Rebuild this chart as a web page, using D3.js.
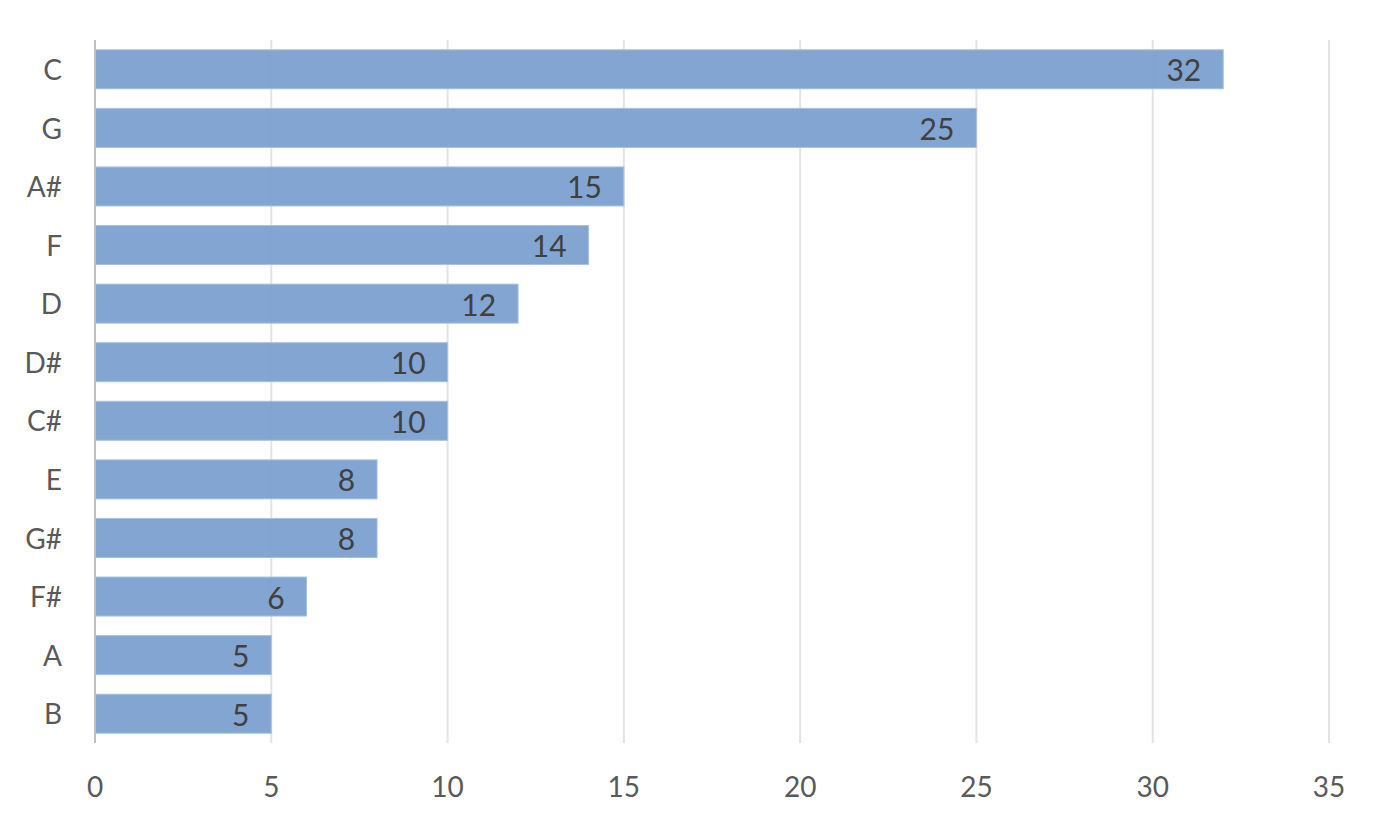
<!DOCTYPE html>
<html>
<head>
<meta charset="utf-8">
<script src="https://cdn.jsdelivr.net/npm/d3@7"></script>
<style>
  body { margin: 0; background: #fff; }
  text { font-family: Lato, 'Open Sans', sans-serif; }
</style>
</head>
<body>
<script>
// notes, ordered top to bottom
var notes = ['C', 'G', 'A#', 'F', 'D', 'D#', 'C#', 'E', 'G#', 'F#', 'A', 'B']
var counts = [32, 25, 15, 14, 12, 10, 10, 8, 8, 6, 5, 5]
var xTicks = [0, 5, 10, 15, 20, 25, 30, 35]

var width = 1389, height = 833
var margin = {top: 40, right: 60, bottom: 90, left: 95}

var svg = d3.select('body')
  .append('svg')
  .attr('width', width)
  .attr('height', height)

var x = d3.scaleLinear()
  .domain([0, 35])
  .range([margin.left, width - margin.right])

var y = d3.scaleBand()
  .domain(notes)
  .range([margin.top, height - margin.bottom])
  .paddingInner(0.334)
  .paddingOuter(0.167)

// gridlines
svg.append('g')
  .selectAll('line')
  .data(xTicks.slice(1))
  .enter().append('line')
    .attr('x1', function (d) { return x(d) })
    .attr('x2', function (d) { return x(d) })
    .attr('y1', margin.top)
    .attr('y2', height - margin.bottom)
    .attr('stroke', '#e3e3e3')
    .attr('stroke-width', 2)

// bars
svg.append('g')
  .selectAll('rect')
  .data(notes)
  .enter().append('rect')
    .attr('x', x(0))
    .attr('y', function (d) { return y(d) })
    .attr('width', function (d, i) { return x(counts[i]) - x(0) })
    .attr('height', y.bandwidth())
    .attr('fill', '#7ba1cf')
    .attr('fill-opacity', 0.95)
    .attr('stroke', '#a9c1e0')
    .attr('stroke-width', 1)

// value labels
svg.append('g')
  .selectAll('text')
  .data(notes)
  .enter().append('text')
    .attr('x', function (d, i) { return x(counts[i]) - 22 })
    .attr('y', function (d) { return y(d) + y.bandwidth() / 2 })
    .attr('dy', '0.4em')
    .attr('text-anchor', 'end')
    .attr('fill', '#404040')
    .style('font-size', '30px')
    .text(function (d, i) { return counts[i] })

// y axis line
svg.append('line')
  .attr('x1', x(0))
  .attr('x2', x(0))
  .attr('y1', margin.top)
  .attr('y2', height - margin.bottom)
  .attr('stroke', '#bfbfbf')
  .attr('stroke-width', 2)

// y labels
svg.append('g')
  .selectAll('text')
  .data(notes)
  .enter().append('text')
    .attr('x', 62)
    .attr('y', function (d) { return y(d) + y.bandwidth() / 2 })
    .attr('dy', '0.38em')
    .attr('text-anchor', 'end')
    .attr('fill', '#595959')
    .style('font-size', '28px')
    .text(function (d) { return d })

// x labels
svg.append('g')
  .selectAll('text')
  .data(xTicks)
  .enter().append('text')
    .attr('x', function (d) { return x(d) })
    .attr('y', 787)
    .attr('dy', '0.36em')
    .attr('text-anchor', 'middle')
    .attr('fill', '#595959')
    .style('font-size', '28px')
    .text(function (d) { return d })
</script>
</body>
</html>
